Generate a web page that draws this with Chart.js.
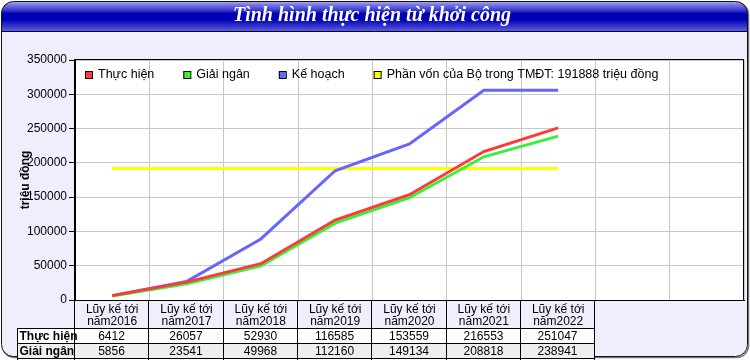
<!DOCTYPE html>
<html>
<head>
<meta charset="utf-8">
<script src="https://cdn.jsdelivr.net/npm/chart.js@4.4.0/dist/chart.umd.min.js"></script>
<style>
html, body { margin: 0; padding: 0; background: #fff; }
#wrap { width: 750px; height: 360px; position: relative; }
</style>
</head>
<body>
<div id="wrap"><canvas id="progress-chart"></canvas></div>
<script>
const ctx = document.getElementById('progress-chart');

// data
const years = ['năm2016', 'năm2017', 'năm2018', 'năm2019', 'năm2020', 'năm2021', 'năm2022'];
const thucHien = [6412, 26057, 52930, 116585, 153559, 216553, 251047];
const giaiNgan = [5856, 23541, 49968, 112160, 149134, 208818, 238941];
const keHoach = [6412, 27000, 89000, 188500, 227500, 306000, 306000];
const phanVon = [191888, 191888, 191888, 191888, 191888, 191888, 191888];
const yTicks = [0, 50000, 100000, 150000, 200000, 250000, 300000, 350000];

const labels = years.map(y => ['Lũy kế tới', y]);
labels.push('', '');

const tableRows = [
    { name: 'Thực hiện', values: thucHien, bg: '#ffffff' },
    { name: 'Giải ngân', values: giaiNgan, bg: '#eeeeee' },
    { name: 'Kế hoạch', values: keHoach, bg: '#ffffff' }
];

const FONT = '"Liberation Sans", Arial, sans-serif';

const framePath = function (c, x, y, w, h, r) {
    c.beginPath();
    c.moveTo(x + r, y);
    c.lineTo(x + w - r, y);
    c.arcTo(x + w, y, x + w, y + r, r);
    c.lineTo(x + w, y + h - r);
    c.arcTo(x + w, y + h, x + w - r, y + h, r);
    c.lineTo(x + r, y + h);
    c.arcTo(x, y + h, x, y + h - r, r);
    c.lineTo(x, y + r);
    c.arcTo(x, y, x + r, y, r);
    c.closePath();
};

const framePlugin = {
    id: 'frame',
    beforeDraw(chart) {
        const c = chart.ctx;
        const a = chart.chartArea;
        c.save();
        // shadow
        framePath(c, 2.5, 2.5, 746, 355, 12);
        c.strokeStyle = '#777';
        c.lineWidth = 1.5;
        c.stroke();
        framePath(c, 1.5, 1.5, 746, 355, 12);
        c.fillStyle = '#eeeefd';
        c.fill();
        // title bar
        c.save();
        c.clip();
        const g = c.createLinearGradient(0, 1, 0, 31);
        g.addColorStop(0, '#b8b8f0');
        g.addColorStop(0.12, '#7a7ae4');
        g.addColorStop(0.3, '#3c3cd2');
        g.addColorStop(0.42, '#0000b0');
        g.addColorStop(0.62, '#0000b8');
        g.addColorStop(1, '#5c5cd8');
        c.fillStyle = g;
        c.fillRect(0, 0, 750, 31);
        c.restore();
        c.beginPath();
        c.moveTo(1, 31.5);
        c.lineTo(748, 31.5);
        c.strokeStyle = '#000033';
        c.lineWidth = 1;
        c.stroke();
        framePath(c, 1.5, 1.5, 746, 355, 12);
        c.strokeStyle = '#111';
        c.lineWidth = 1;
        c.stroke();
        // plot background
        c.fillStyle = '#ffffff';
        c.fillRect(a.left, a.top, a.right - a.left, a.bottom - a.top);
        c.restore();
    },
    afterDraw(chart) {
        const c = chart.ctx;
        const a = chart.chartArea;
        const xs = chart.scales.x;
        c.save();
        // plot border
        c.strokeStyle = '#000';
        c.lineWidth = 1;
        c.strokeRect(a.left - 0.5, a.top - 0.5, a.right - a.left, a.bottom - a.top + 1);

        // legend inside the plot, one row
        c.font = '12.5px ' + FONT;
        c.textBaseline = 'middle';
        c.textAlign = 'left';
        let lx = a.left + 10;
        const ly = a.top + 11;
        chart.data.datasets.forEach(ds => {
            c.fillStyle = ds.borderColor;
            c.fillRect(lx, ly, 7, 7);
            c.strokeStyle = '#000';
            c.strokeRect(lx + 0.5, ly + 0.5, 7, 7);
            c.fillStyle = '#000';
            c.fillText(ds.label, lx + 13, ly + 4);
            lx += 13 + c.measureText(ds.label).width + 29;
        });

        // data table under the axis
        const bounds = [];
        for (let i = 0; i <= years.length; i++) {
            bounds.push(Math.round(xs.getPixelForValue(i - 0.5)) - 0.5);
        }
        const headLeft = 17.5;
        const rowTop = a.bottom + 28;
        const rowH = 15;
        const right = bounds[bounds.length - 1];
        tableRows.forEach((row, r) => {
            const top = rowTop + r * rowH;
            c.fillStyle = row.bg;
            c.fillRect(headLeft, top, right - headLeft, rowH);
        });
        c.beginPath();
        for (let r = 0; r <= tableRows.length; r++) {
            const y = rowTop + r * rowH + 0.5;
            c.moveTo(headLeft, y);
            c.lineTo(right, y);
        }
        c.moveTo(headLeft, rowTop);
        c.lineTo(headLeft, 360);
        bounds.forEach(x => {
            c.moveTo(x, a.bottom);
            c.lineTo(x, 360);
        });
        c.strokeStyle = '#000';
        c.stroke();

        tableRows.forEach((row, r) => {
            const cy = rowTop + r * rowH + rowH / 2 + 1;
            c.fillStyle = '#000';
            c.textAlign = 'left';
            c.font = 'bold 12px ' + FONT;
            c.fillText(row.name, headLeft + 2, cy);
            c.textAlign = 'center';
            c.font = '12px ' + FONT;
            row.values.forEach((v, i) => {
                c.fillText(String(v), (bounds[i] + bounds[i + 1]) / 2, cy);
            });
        });
        c.restore();
    }
};

const lineSet = function (label, values, color) {
    return {
        label: label,
        data: values,
        borderColor: color,
        backgroundColor: color,
        borderWidth: 3,
        pointRadius: 0,
        tension: 0,
        fill: false
    };
};

const progressChart = new Chart(ctx, {
    type: 'line',
    data: {
        labels: labels,
        datasets: [
            lineSet('Thực hiện', thucHien, '#ff3838'),
            lineSet('Giải ngân', giaiNgan, '#38f038'),
            lineSet('Kế hoạch', keHoach, '#6666ff'),
            lineSet('Phần vốn của Bộ trong TMĐT: 191888 triệu đồng', phanVon, '#ffff00')
        ]
    },
    options: {
        responsive: true,
        maintainAspectRatio: false,
        animation: false,
        layout: {
            padding: { left: 0, right: 6, top: 0, bottom: 0 }
        },
        scales: {
            x: {
                offset: true,
                grid: {
                    color: '#c8c8c8',
                    offset: true,
                    drawTicks: false
                },
                border: { color: '#000', width: 1 },
                ticks: {
                    color: '#000',
                    font: { family: FONT, size: 12, lineHeight: 1.05 },
                    padding: 3,
                    autoSkip: false,
                    maxRotation: 0
                },
                afterFit(scale) {
                    scale.height = 60;
                }
            },
            y: {
                min: 0,
                max: 350000,
                afterBuildTicks(scale) {
                    scale.ticks = yTicks.map(v => ({ value: v }));
                },
                grid: {
                    color: '#c8c8c8',
                    tickColor: '#000',
                    tickLength: 6
                },
                border: { color: '#000', width: 1 },
                ticks: {
                    color: '#000',
                    font: { family: FONT, size: 12 },
                    padding: 2,
                    callback: function (value) {
                        return String(value);
                    }
                },
                title: {
                    display: true,
                    text: 'triệu đồng',
                    color: '#000',
                    font: { family: FONT, size: 12, weight: 'bold' },
                    padding: { top: 18, bottom: 18 }
                },
                afterFit(scale) {
                    scale.width = 75;
                }
            }
        },
        plugins: {
            title: {
                display: true,
                text: 'Tình hình thực hiện từ khởi công',
                color: '#ffffff',
                font: { family: '"Liberation Serif", "Times New Roman", serif', size: 20, style: 'italic', weight: 'bold' },
                padding: { top: 4, bottom: 32 }
            },
            legend: { display: false },
            tooltip: { enabled: false }
        }
    },
    plugins: [framePlugin]
});
</script>
</body>
</html>
